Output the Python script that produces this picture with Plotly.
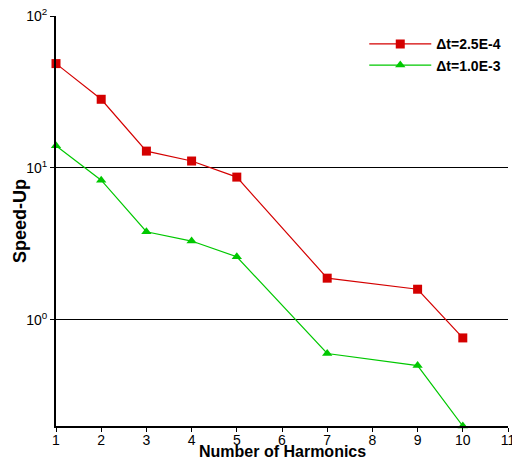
import plotly.graph_objects as go

harmonics = [1, 2, 3, 4, 5, 7, 9, 10]
speedup_dt_2_5e4 = [48.6, 28.3, 12.9, 11.1, 8.7, 1.88, 1.59, 0.76]
speedup_dt_1_0e3 = [14.0, 8.3, 3.8, 3.3, 2.6, 0.60, 0.50, 0.20]

x_ticks = list(range(1, 12))
y_ticks = [1, 10, 100]
y_tick_text = ["10<sup>0</sup>", "10<sup>1</sup>", "10<sup>2</sup>"]

font_family = "Liberation Sans, Arial, sans-serif"

fig = go.Figure()
fig.add_trace(go.Scatter(
    x=harmonics, y=speedup_dt_2_5e4, mode="lines+markers",
    name="<b>\u0394t=2.5E-4</b>",
    line=dict(color="#D40000", width=1.2),
    marker=dict(symbol="square", size=9, color="#D40000"),
    cliponaxis=False,
))
fig.add_trace(go.Scatter(
    x=harmonics, y=speedup_dt_1_0e3, mode="lines+markers",
    name="<b>\u0394t=1.0E-3</b>",
    line=dict(color="#00C800", width=1.2),
    marker=dict(symbol="triangle-up", size=9, color="#00C800"),
    cliponaxis=False,
))

fig.update_layout(
    width=512, height=460,
    margin=dict(l=56, r=4, t=16, b=34),
    paper_bgcolor="white", plot_bgcolor="white",
    font=dict(family=font_family, size=14, color="black"),
    showlegend=True,
    legend=dict(
        x=0.682, y=0.97, xanchor="left", yanchor="top",
        bgcolor="rgba(0,0,0,0)", font=dict(size=14, color="black"),
        tracegroupgap=0, itemwidth=62,
    ),
    xaxis=dict(
        range=[1, 11], tickvals=x_ticks, ticks="outside", ticklen=4,
        tickcolor="black", showline=True, linecolor="black", linewidth=2,
        showgrid=False, zeroline=False, automargin=False,
        ticklabeloverflow="allow", ticklabelstandoff=-4,
        tickfont=dict(size=14),
    ),
    yaxis=dict(
        type="log", range=[-0.699, 2], tickvals=y_ticks, ticktext=y_tick_text,
        ticks="outside", ticklen=4, tickcolor="black",
        showline=True, linecolor="black", linewidth=2,
        showgrid=True, gridcolor="black", gridwidth=1, zeroline=False,
        automargin=False,
        tickfont=dict(size=14),
    ),
    annotations=[
        dict(text="<b>Number of Harmonics</b>", xref="paper", yref="paper",
             x=0.5, y=0, xanchor="center", yanchor="top", yshift=-15,
             showarrow=False, font=dict(size=16)),
        dict(text="<b>Speed-Up</b>", xref="paper", yref="paper",
             x=0, y=0.5, xanchor="center", yanchor="middle", xshift=-36,
             textangle=-90, showarrow=False, font=dict(size=18)),
    ],
)

fig.write_html("out.html")
